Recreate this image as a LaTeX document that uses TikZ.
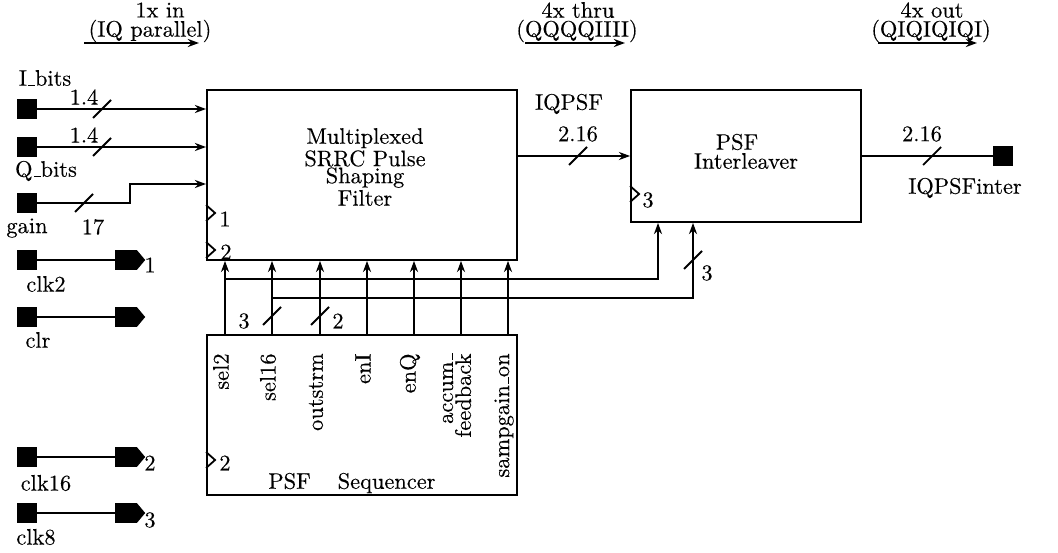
\documentclass[tikz,border=0pt]{standalone}
\usepackage{fontspec}
\setmainfont{lmroman10-regular}[Extension=.otf, FakeBold=0.3]
\usetikzlibrary{arrows.meta,shapes.symbols}
\newcommand{\traco}{\kern.06em\vbox{\hrule width.3em}}
\begin{document}
\begin{tikzpicture}[x=0.446pt, y=-0.446pt,
        lin/.style={line width=0.8pt},
        fio/.style={lin, -{Stealth[length=5pt, width=3.6pt]}},
        bloco/.style={draw, lin, inner sep=0pt},
        porta/.style={fill, inner sep=0pt, minimum size=8.9pt},
        drv/.style={signal, signal to=east, signal pointer angle=100, fill,
                    inner sep=0pt, minimum width=13.4pt, minimum height=8.9pt},
        txt/.style={font=\fontsize{10}{7.6}\selectfont, inner sep=0pt, align=center},
        rot/.style={rotate=90, txt, anchor=east, align=right},
    ]
    \useasboundingbox (0,0) rectangle (1058,552);
    % blocos
    \node[bloco, minimum width=138.3pt, minimum height=75.8pt] (mux) at (362,175) {};
    \node[bloco, minimum width=138.3pt, minimum height=71.4pt] (seq) at (362,415) {};
    \node[bloco, minimum width=102.6pt, minimum height=58.9pt] (ilv) at (746,156) {};
    \node[txt] (muxtxt) at (365,167) {Multiplexed\\ SRRC Pulse\\ Shaping\\ Filter};
    \node[txt] (ilvtxt1) at (737,142) {PSF};
    \node[txt] (ilvtxt2) at (746,161) {Interleaver};
    \node[txt] (seqtxt) at (352,483) {PSF\hspace{12pt}Sequencer};
    % entradas de relogio
    \draw[lin] (mux.west |- 0,205) -- ++(9,8) -- ++(-9,8);
    \draw[lin] (mux.west |- 0,242) -- ++(9,8) -- ++(-9,8);
    \draw[lin] (seq.west |- 0,452) -- ++(9,8) -- ++(-9,8);
    \draw[lin] (ilv.west |- 0,186) -- ++(9,8) -- ++(-9,8);
    \node[txt] (ck1) at (225,219) {1};
    \node[txt] (ck2) at (226,252) {2};
    \node[txt] (ck3) at (225,463) {2};
    \node[txt] (ck4) at (648,200) {3};
    % portas
    \node[porta] (ib)  at (27,109) {};
    \node[porta] (qb)  at (27,147) {};
    \node[porta] (gn)  at (27,203) {};
    \node[porta] (c2)  at (27,260) {};
    \node[porta] (cr)  at (27,317) {};
    \node[porta] (c16) at (27,457) {};
    \node[porta] (c8)  at (27,513) {};
    \node[porta] (iqo) at (1003,156) {};
    \node[drv] (d1) at (126,260) {};
    \node[drv] (d0) at (126,317) {};
    \node[drv] (d2) at (126,457) {};
    \node[drv] (d3) at (126,513) {};
    % ligacoes
    \draw[fio] (ib) -- (ib -| mux.west);
    \draw[fio] (qb) -- (qb -| mux.west);
    \draw[fio] (gn) -- (130,203) |- (mux.west |- 0,184);
    \draw[lin] (c2) -- (d1);
    \draw[lin] (cr) -- (d0);
    \draw[lin] (c16) -- (d2);
    \draw[lin] (c8) -- (d3);
    \draw[fio] (mux.east |- ilv.west) -- (ilv.west);
    \draw[lin] (ilv) -- (iqo);
    \foreach \x in {225,272,320,367,414,461,508}
        \draw[fio] (seq.north -| \x,0) -- (mux.south -| \x,0);
    \draw[fio] (225,279) -| (ilv.south -| 658,0);
    \draw[fio] (272,298) -| (ilv.south -| 693,0);
    % barramentos
    \foreach \x/\y in {102/109, 102/147, 84/203, 578/156, 932/156, 272/316, 320/316, 693/260}
        \draw[lin] (\x,\y) ++(-9,9) -- ++(18,-18);
    % rotulos
    \node[txt] (lib)  at (45,78)   {I\traco bits};
    \node[txt] (wib)  at (84,97)   {1.4};
    \node[txt] (wqb)  at (84,135)  {1.4};
    \node[txt] (lqb)  at (46,171)  {Q\traco bits};
    \node[txt] (lgn)  at (27,228)  {gain};
    \node[txt] (wgn)  at (93,227)  {17};
    \node[txt] (lc2)  at (46,284)  {clk2};
    \node[txt] (lcr)  at (38,340)  {clr};
    \node[txt] (lc16) at (46,483)  {clk16};
    \node[txt] (lc8)  at (36,537)  {clk8};
    \node[txt] (nd1)  at (150,265) {1};
    \node[txt] (nd2)  at (150,463) {2};
    \node[txt] (nd3)  at (150,520) {3};
    \node[txt] (w16)  at (244,321) {3};
    \node[txt] (wos)  at (338,321) {2};
    \node[txt] (wil)  at (707,273) {3};
    \node[txt] (liq)  at (569,104) {IQPSF};
    \node[txt] (wiq)  at (578,134) {2.16};
    \node[txt] (wout) at (922,134) {2.16};
    \node[txt] (lout) at (965,188) {IQPSFinter};
    \foreach \x/\lbl in {221/sel2, 268/sel16, 316/outstrm, 363/enI, 410/enQ, 504/sampgain\traco on}
        \node[rot] (r\x) at (\x,353) {\lbl};
    \node[rot, font=\fontsize{10}{8}\selectfont] (racc) at (457,353) {accum\traco\\ feedback};
    % taxas
    \node[txt] (t1a) at (160,10) {1x in};
    \node[txt] (t1b) at (150,31) {(IQ parallel)};
    \node[txt] (t2a) at (578,10) {4x thru};
    \node[txt] (t2b) at (577,31) {(QQQQIIII)};
    \node[txt] (t3a) at (932,10) {4x out};
    \node[txt] (t3b) at (931,31) {(QIQIQIQI)};
    \coordinate (f1a) at (84,43);  \coordinate (f1b) at (199,43);
    \coordinate (f2a) at (525,43); \coordinate (f2b) at (625,43);
    \coordinate (f3a) at (878,43); \coordinate (f3b) at (977,43);
    \draw[fio] (f1a) -- (f1b);
    \draw[fio] (f2a) -- (f2b);
    \draw[fio] (f3a) -- (f3b);
\end{tikzpicture}
\end{document}
